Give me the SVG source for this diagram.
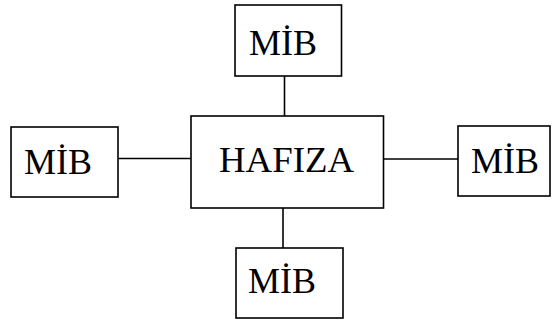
<svg xmlns="http://www.w3.org/2000/svg" width="557" height="320" viewBox="0 0 557 320">
<style>
.box{fill:#fff;stroke:#000;stroke-width:1.6}
.t{font-family:"Liberation Serif","Times New Roman",serif;font-size:36px;fill:#000}
.c{stroke:#000;stroke-width:1.6;fill:none}
</style>
<rect width="557" height="320" fill="#fff"/>
<g id="connectors">
<line class="c" x1="284.5" y1="76" x2="284.5" y2="116"/>
<line class="c" x1="118" y1="158.5" x2="191" y2="158.5"/>
<line class="c" x1="384" y1="159" x2="458" y2="159"/>
<line class="c" x1="283" y1="208" x2="283" y2="248"/>
</g>
<g id="hafiza">
<rect class="box" x="191" y="116" width="192.5" height="92"/>
<text class="t" x="219" y="172" textLength="135" lengthAdjust="spacingAndGlyphs">HAFIZA</text>
</g>
<g id="mib-top">
<rect class="box" x="235" y="5" width="106.5" height="71"/>
<text class="t" x="249" y="55">MİB</text>
</g>
<g id="mib-left">
<rect class="box" x="11" y="127" width="107" height="70"/>
<text class="t" x="24" y="174">MİB</text>
</g>
<g id="mib-right">
<rect class="box" x="458" y="126" width="92" height="70"/>
<text class="t" x="471" y="173">MİB</text>
</g>
<g id="mib-bottom">
<rect class="box" x="236" y="248" width="107" height="70"/>
<text class="t" x="248" y="293">MİB</text>
</g>
</svg>
